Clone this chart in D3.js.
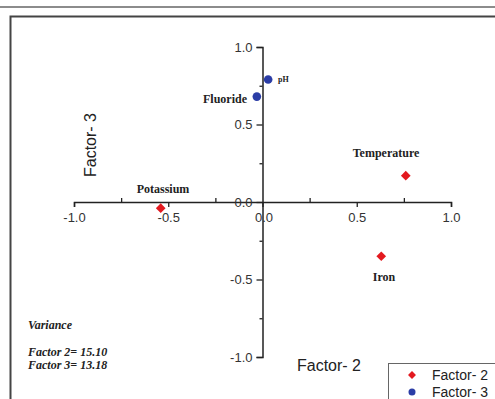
<!DOCTYPE html>
<html>
<head>
<meta charset="utf-8">
<script src="https://cdn.jsdelivr.net/npm/d3@7"></script>
<style>
  body { margin: 0; background: #fff; }
  svg { display: block; }
</style>
</head>
<body>
<svg id="chart" width="495" height="399"></svg>
<script>
// data
var factor2Names = ["Potassium", "Temperature", "Iron"]
var factor2X = [-0.54, 0.76, 0.63]
var factor2Y = [-0.04, 0.17, -0.35]

var factor3Names = ["pH", "Fluoride"]
var factor3X = [0.03, -0.03]
var factor3Y = [0.79, 0.68]

var majorTicks = [-1.0, -0.5, 0.0, 0.5, 1.0]
var minorTicks = [-0.75, -0.25, 0.25, 0.75]
var varianceLines = ["Variance", "Factor 2= 15.10", "Factor 3= 13.18"]
var legendLabels = ["Factor- 2", "Factor- 3"]

var red = "#e3191f", blue = "#2b3da6"

window.onload = () => {
  draw_chart()
}

function draw_chart(){
  var svg = d3.select("#chart")

  // frame
  svg.append("line").attr("x1", 0).attr("x2", 495).attr("y1", 7).attr("y2", 7)
    .attr("stroke", "#666").attr("stroke-width", 1.5)
  svg.append("path").attr("d", "M10.5,400 V16.5 H500")
    .attr("fill", "none").attr("stroke", "#444").attr("stroke-width", 2)

  var x = d3.scaleLinear().domain([-1, 1]).range([74, 451])
  var y = d3.scaleLinear().domain([-1, 1]).range([357, 47])

  // x axis (through y = 0)
  var gx = svg.append("g").attr("transform", "translate(0," + y(0) + ")")
  gx.call(d3.axisBottom(x).tickValues(majorTicks).tickSize(5).tickPadding(6)
      .tickFormat(function(d){ return d3.format(".1f")(d).replace("−", "-") }))
  gx.append("g").call(d3.axisTop(x).tickValues(minorTicks).tickSize(4).tickFormat(""))
    .select(".domain").remove()

  // y axis (through x = 0)
  var gy = svg.append("g").attr("transform", "translate(" + x(0) + ",0)")
  gy.call(d3.axisLeft(y).tickValues(majorTicks).tickSize(6).tickPadding(4)
      .tickFormat(function(d){ return d3.format(".1f")(d).replace("−", "-") }))
  gy.append("g").call(d3.axisLeft(y).tickValues(minorTicks).tickSize(3).tickFormat(""))
    .select(".domain").remove()

  svg.selectAll(".domain").attr("stroke", "#222").attr("stroke-width", 1.5)
  svg.selectAll(".tick line").attr("stroke", "#222").attr("stroke-width", 1.3)
  svg.selectAll(".tick text")
    .style("font-family", "Liberation Sans, Arial, sans-serif")
    .style("font-size", "13px").attr("fill", "#333")
  // x zero label sits just right of axis origin
  gx.selectAll(".tick text").filter(function(d){ return d === 0 }).attr("dx", 1)

  // axis titles
  svg.append("text").attr("transform", "translate(96,145) rotate(-90)")
    .attr("text-anchor", "middle")
    .style("font-family", "Liberation Sans, Arial, sans-serif").style("font-size", "16px")
    .attr("fill", "#222").text("Factor- 3")
  svg.append("text").attr("x", 329).attr("y", 371).attr("text-anchor", "middle")
    .style("font-family", "Liberation Sans, Arial, sans-serif").style("font-size", "16px")
    .attr("fill", "#222").text("Factor- 2")

  var f2 = factor2Names.map(function(n, i){ return {name: n, x: factor2X[i], y: factor2Y[i]} })
  var f3 = factor3Names.map(function(n, i){ return {name: n, x: factor3X[i], y: factor3Y[i]} })

  // factor 2 diamonds
  svg.selectAll(".f2").data(f2).enter().append("path")
    .attr("d", d3.symbol().type(d3.symbolDiamond2).size(60))
    .attr("transform", function(d){ return "translate(" + x(d.x) + "," + y(d.y) + ")" })
    .attr("fill", red)

  // factor 3 circles
  svg.selectAll(".f3").data(f3).enter().append("circle")
    .attr("cx", function(d){ return x(d.x) }).attr("cy", function(d){ return y(d.y) })
    .attr("r", 4.3).attr("fill", blue)

  // point labels
  var labelPos = {
    "Potassium": [163, 193, "middle", 12],
    "Temperature": [386, 157, "middle", 12],
    "Iron": [384, 281, "middle", 12],
    "pH": [278, 82, "start", 8],
    "Fluoride": [247, 103, "end", 12]
  }
  svg.selectAll(".lbl").data(f2.concat(f3)).enter().append("text")
    .attr("x", function(d){ return labelPos[d.name][0] })
    .attr("y", function(d){ return labelPos[d.name][1] })
    .attr("text-anchor", function(d){ return labelPos[d.name][2] })
    .style("font-size", function(d){ return labelPos[d.name][3] + "px" })
    .style("font-family", "Liberation Serif, Times New Roman, serif")
    .style("font-weight", "bold").attr("fill", "#222")
    .text(function(d){ return d.name })

  // variance note
  var vy = [329, 356, 369]
  svg.selectAll(".var").data(varianceLines).enter().append("text")
    .attr("x", 28).attr("y", function(d, i){ return vy[i] })
    .style("font-family", "Liberation Serif, Times New Roman, serif")
    .style("font-size", "12px").style("font-weight", "bold").style("font-style", "italic")
    .attr("fill", "#222").text(function(d){ return d })

  // legend
  svg.append("rect").attr("x", 388.5).attr("y", 363.5).attr("width", 120).attr("height", 50)
    .attr("fill", "#fff").attr("stroke", "#666").attr("stroke-width", 1)
  var lg = svg.selectAll(".leg").data(legendLabels).enter().append("g")
    .attr("transform", function(d, i){ return "translate(412," + (375 + i * 17) + ")" })
  lg.filter(function(d, i){ return i === 0 }).append("path")
    .attr("d", d3.symbol().type(d3.symbolDiamond2).size(40)).attr("fill", red)
  lg.filter(function(d, i){ return i === 1 }).append("circle")
    .attr("r", 3.5).attr("fill", blue)
  lg.append("text").attr("x", 20).attr("y", 5)
    .style("font-family", "Liberation Sans, Arial, sans-serif").style("font-size", "14px")
    .attr("fill", "#222").text(function(d){ return d })
}
</script>
</body>
</html>
